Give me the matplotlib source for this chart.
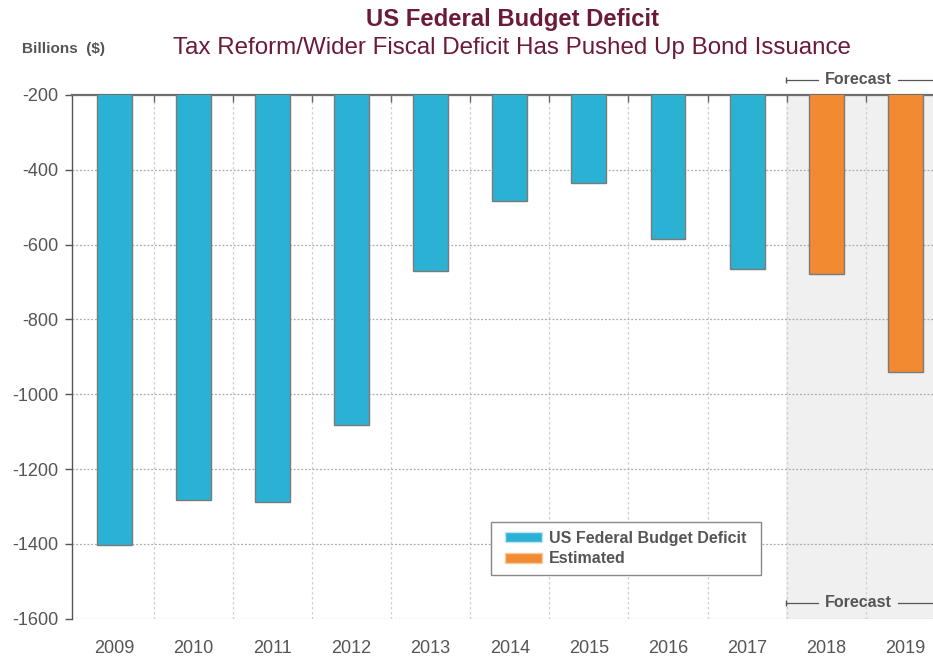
import numpy as np
import matplotlib.pyplot as plt
import matplotlib.transforms as mtransforms
from matplotlib.patches import Patch, Rectangle

plt.rcParams['font.family'] = ['Liberation Sans', 'DejaVu Sans']

# fiscal year deficits, billions of dollars
years = ['2009', '2010', '2011', '2012', '2013', '2014',
         '2015', '2016', '2017', '2018', '2019']
deficit = [-1402, -1284, -1288, -1081, -671, -484, -436, -584, -664, -679, -941]
estimated = [False] * 9 + [True] * 2
yticks = [-200, -400, -600, -800, -1000, -1200, -1400, -1600]

blue = '#2bb1d4'
orange = '#f28a32'
txt = '#555555'
title_col = '#6b1a3a'

fig = plt.figure(figsize=(9.33, 6.56), dpi=100)
ax = fig.add_axes([0.0775, 0.0569, 0.9225, 0.7983])

x = np.arange(len(years))
cols = [orange if e else blue for e in estimated]
ax.bar(x, deficit, width=0.44, color=cols, edgecolor='#7a7a7a', linewidth=1.0, zorder=3)

# forecast shading
ax.axvspan(8.49, 10.6, color='#f0f0f0', zorder=0, lw=0)

ax.set_xlim(-0.53, 10.35)
ax.set_ylim(-1600, -200)
ax.set_yticks(yticks)
ax.set_yticklabels([str(v) for v in yticks])
ax.set_xticks(x)
ax.set_xticklabels(years)
ax.set_xticks(x[:-1] + 0.5, minor=True)

ax.grid(axis='y', which='major', color='#aaaaaa', linestyle=(0, (1.5, 1.5)), linewidth=0.9, zorder=1)
ax.grid(axis='x', which='minor', color='#cfcfcf', linestyle=(0, (2, 2)), linewidth=0.9, zorder=1)
ax.grid(axis='x', which='major', visible=False)

ax.tick_params(axis='x', which='major', length=0, labelsize=13, labelcolor=txt, pad=15)
ax.tick_params(axis='x', which='minor', top=True, bottom=False, direction='in',
               length=5, color='#666666', width=1)
ax.tick_params(axis='y', length=5, color='#555555', width=1, labelsize=13,
               labelcolor=txt, pad=5)

for s in ['right', 'bottom']:
    ax.spines[s].set_visible(False)
ax.spines['top'].set_color('#6e6e6e')
ax.spines['top'].set_linewidth(1.6)
ax.spines['left'].set_color('#555555')
ax.spines['left'].set_linewidth(1.0)

# forecast markers above and inside the plot
trans = mtransforms.blended_transform_factory(ax.transData, ax.transAxes)
for yy in [1.0287, 0.030]:
    ax.plot([8.49, 8.9], [yy, yy], color='#555555', lw=0.9, transform=trans,
            clip_on=False, zorder=5)
    ax.plot([8.49], [yy], marker='|', markersize=5, color='#555555', transform=trans,
            clip_on=False, zorder=5)
    ax.plot([9.91, 10.35], [yy, yy], color='#555555', lw=0.9, transform=trans,
            clip_on=False, zorder=5)
    ax.text(9.405, yy, 'Forecast', transform=trans, ha='center', va='center',
            fontsize=11.5, fontweight='bold', color=txt, zorder=5)

# legend box drawn separately for wider side padding
ax.add_patch(Rectangle((0.4865, 0.0834), 0.3135, 0.1012, transform=ax.transAxes,
                       facecolor='white', edgecolor='#888888', lw=1.0, zorder=6))
handles = [Patch(facecolor=blue, edgecolor='#bde6f2', label='US Federal Budget Deficit'),
           Patch(facecolor=orange, edgecolor='#f7c9a0', label='Estimated')]
leg = ax.legend(handles=handles, loc='center', bbox_to_anchor=(0.6432, 0.134),
                frameon=False, fontsize=11.5,
                handlelength=2.3, handleheight=0.6, labelspacing=0.35,
                borderpad=0.0, handletextpad=0.45, borderaxespad=0)
leg.set_zorder(7)
for t in leg.get_texts():
    t.set_color(txt)
    t.set_fontweight('bold')

fig.text(0.549, 0.970, 'US Federal Budget Deficit', ha='center', va='center',
         fontsize=17.2, fontweight='bold', color=title_col)
fig.text(0.549, 0.927, 'Tax Reform/Wider Fiscal Deficit Has Pushed Up Bond Issuance',
         ha='center', va='center', fontsize=17.4, color=title_col)
fig.text(0.0236, 0.925, 'Billions  ($)', ha='left', va='center',
         fontsize=11, fontweight='bold', color=txt)

fig.savefig('out.png', dpi=100)
